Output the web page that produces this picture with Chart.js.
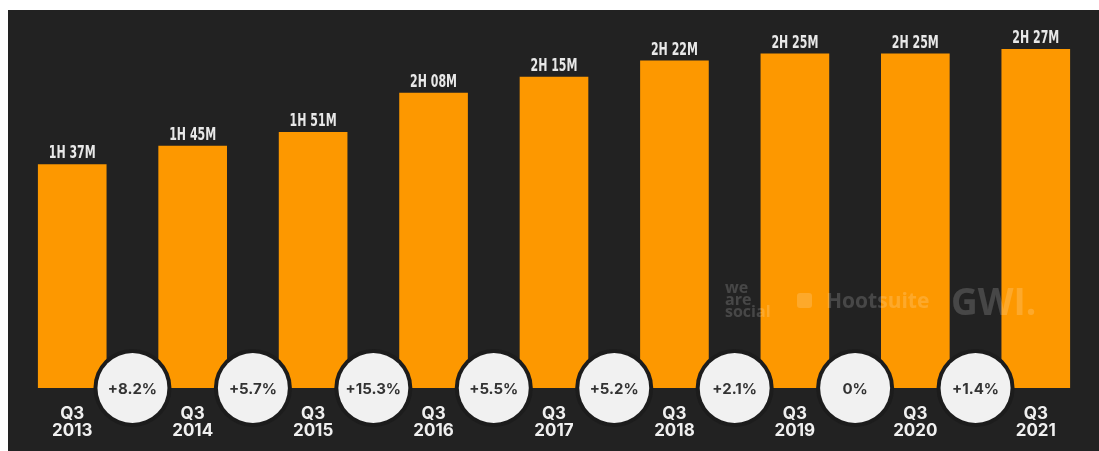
<!DOCTYPE html>
<html lang="en">
<head>
  <meta charset="UTF-8">
  <title>Daily time spent on social media</title>
  <script src="https://cdn.jsdelivr.net/npm/chart.js"></script>
  <style>
    html, body { margin: 0; padding: 0; background: #ffffff; }
    #wrap { position: relative; width: 1099px; height: 451px; }
  </style>
</head>
<body>
  <div id="wrap">
    <canvas id="timeChart"></canvas>
  </div>

  <script>
    // Average daily time on social media, in minutes
    const quarters = [
      ['Q3', '2013'], ['Q3', '2014'], ['Q3', '2015'], ['Q3', '2016'], ['Q3', '2017'],
      ['Q3', '2018'], ['Q3', '2019'], ['Q3', '2020'], ['Q3', '2021']
    ];
    const minutes = [97, 105, 111, 128, 135, 142, 145, 145, 147];
    // Year-on-year change, shown in the circles between bars
    const changes = [8.2, 5.7, 15.3, 5.5, 5.2, 2.1, 0, 1.4];

    const BG = '#222222';
    const BAR = '#fd9800';

    function fmtTime(m) {
      const h = Math.floor(m / 60);
      const mm = String(m % 60).padStart(2, '0');
      return h + 'H ' + mm + 'M';
    }

    function fmtChange(v) {
      return v === 0 ? '0%' : '+' + v.toFixed(1) + '%';
    }

    // Dark panel behind the chart
    const panelPlugin = {
      id: 'panel',
      beforeDraw(chart) {
        const c = chart.ctx;
        c.save();
        c.fillStyle = '#ffffff';
        c.fillRect(0, 0, chart.width, chart.height);
        c.fillStyle = BG;
        c.fillRect(8, 10, chart.width - 8, chart.height - 10);
        c.restore();
      }
    };

    // Value labels, watermark and the change bubbles
    const overlayPlugin = {
      id: 'overlay',
      afterDatasetsDraw(chart) {
        const c = chart.ctx;
        const bars = chart.getDatasetMeta(0).data;
        const base = chart.scales.y.getPixelForValue(0);

        c.save();

        // time labels above each bar, condensed
        c.fillStyle = '#e8e8e8';
        c.font = 'bold 17px "DejaVu Sans Condensed", "DejaVu Sans"';
        c.textAlign = 'center';
        c.textBaseline = 'alphabetic';
        bars.forEach((bar, i) => {
          c.save();
          c.translate(bar.x, bar.y - 6);
          c.scale(0.72, 1);
          c.fillText(fmtTime(minutes[i]), 0, 0);
          c.restore();
        });

        // brand marks
        c.fillStyle = 'rgba(255,255,255,0.17)';
        c.textAlign = 'left';
        c.textBaseline = 'middle';
        c.font = 'bold 16px "Open Sans", sans-serif';
        c.fillText('we', 725, 288);
        c.fillText('are', 725, 300);
        c.fillText('social', 725, 312);
        c.beginPath();
        c.roundRect(797, 293, 15, 15, 3);
        c.fill();
        c.font = 'bold 21px "Open Sans", sans-serif';
        c.fillText('Hootsuite', 826, 302);
        c.font = 'bold 37px "Open Sans", sans-serif';
        c.fillText('GWI.', 951, 304);

        // change bubbles between bars
        for (let i = 0; i < changes.length; i++) {
          const x = (bars[i].x + bars[i + 1].x) / 2;
          c.beginPath();
          c.arc(x, base, 39, 0, Math.PI * 2);
          c.fillStyle = '#1c1c1c';
          c.fill();
          c.beginPath();
          c.arc(x, base, 35, 0, Math.PI * 2);
          c.fillStyle = '#f1f1f1';
          c.fill();
          c.fillStyle = '#333333';
          c.font = 'bold 15px Inter, sans-serif';
          c.textAlign = 'center';
          c.textBaseline = 'middle';
          c.fillText(fmtChange(changes[i]), x, base + 1);
        }

        c.restore();
      }
    };

    const ctx = document.getElementById('timeChart').getContext('2d');
    const timeChart = new Chart(ctx, {
      type: 'bar',
      data: {
        labels: quarters,
        datasets: [{
          data: minutes,
          backgroundColor: BAR,
          borderWidth: 0,
          barPercentage: 1,
          categoryPercentage: 0.57
        }]
      },
      options: {
        responsive: true,
        maintainAspectRatio: false,
        animation: false,
        layout: {
          padding: { left: 12, right: 3, top: 19, bottom: 0 }
        },
        plugins: {
          legend: { display: false },
          tooltip: { enabled: false }
        },
        scales: {
          x: {
            grid: { display: false, drawTicks: false },
            border: { display: false },
            ticks: {
              color: '#f0f0f0',
              padding: 17,
              maxRotation: 0,
              font: { family: 'Inter', weight: 'bold', size: 17, lineHeight: 1 }
            },
            afterFit(scale) { scale.height = 63; }
          },
          y: {
            display: false,
            min: 0,
            max: 160
          }
        }
      },
      plugins: [panelPlugin, overlayPlugin]
    });
  </script>
</body>
</html>
